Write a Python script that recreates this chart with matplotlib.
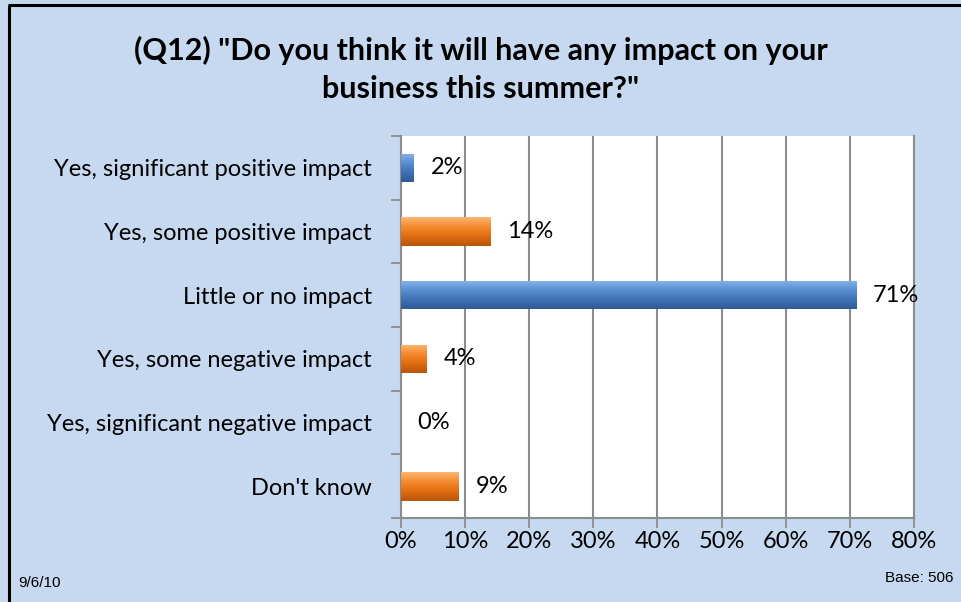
import matplotlib.pyplot as plt
import numpy as np
from matplotlib.colors import LinearSegmentedColormap

plt.rcParams['font.family'] = ['Lato', 'DejaVu Sans']

categories = ["Yes, significant positive impact", "Yes, some positive impact",
              "Little or no impact", "Yes, some negative impact",
              "Yes, significant negative impact", "Don't know"]
values = [2, 14, 71, 4, 0, 9]
series_colors = ["blue", "orange", "blue", "orange", "blue", "orange"]
xticks = [0, 10, 20, 30, 40, 50, 60, 70, 80]

bg = "#C6D9F0"
grid_c = "#8C8C8C"
fs = 17

# gradient palettes (top -> bottom) to mimic the 3D bars
grads = {
    "blue": ["#86B4EA", "#5A8FD2", "#3F72B5", "#2F5C96"],
    "orange": ["#FCB672", "#F58A2E", "#E06C10", "#B8560C"],
}

fig = plt.figure(figsize=(9.62, 6.02), dpi=100, facecolor=bg)
ax = fig.add_axes([0.4168, 0.1395, 0.5333, 0.6346])
ax.set_facecolor("white")

y = np.arange(len(categories))
bars = ax.barh(y, values, height=0.45, color="none", edgecolor="none", zorder=3)
for b, c in zip(bars, series_colors):
    cmap = LinearSegmentedColormap.from_list(c, grads[c])
    x0, y0 = b.get_x(), b.get_y()
    w, h = b.get_width(), b.get_height()
    if w <= 0:
        continue
    grad = np.linspace(0, 1, 50).reshape(-1, 1)
    im = ax.imshow(grad, cmap=cmap, aspect="auto", extent=[x0, x0 + w, y0 + h, y0],
                   zorder=3, interpolation="bicubic")
    im.set_clip_path(b)

for yi, v in zip(y, values):
    ax.annotate(f"{v}%", (v, yi), xytext=(12, 0), textcoords="offset points",
                ha="left", va="center", fontsize=fs, color="black", zorder=4)

ax.set_xlim(0, 80)
ax.set_ylim(len(categories) - 0.5, -0.5)
ax.set_xticks(xticks)
ax.set_xticklabels([f"{t}%" for t in xticks], fontsize=fs)
ax.set_yticks(y)
ax.set_yticklabels(categories, fontsize=fs)
ax.tick_params(axis="y", length=0, pad=21)
ax.set_yticks(np.arange(-0.5, len(categories)), minor=True)
ax.tick_params(axis="y", which="minor", length=7, color=grid_c, width=1.3)
ax.tick_params(axis="x", length=7, color=grid_c, width=1.3, pad=2)
ax.xaxis.grid(True, color=grid_c, linewidth=1.5, zorder=1)
ax.set_axisbelow(True)
ax.spines["top"].set_visible(False)
for s in ["left", "bottom", "right"]:
    ax.spines[s].set_color(grid_c)
    ax.spines[s].set_linewidth(1.5)

fig.text(0.5, 0.917, "(Q12) \"Do you think it will have any impact on your",
         ha="center", va="center", fontsize=22, fontweight="bold")
fig.text(0.5, 0.852, "business this summer?\"",
         ha="center", va="center", fontsize=22, fontweight="bold")
fig.text(0.019, 0.031, "9/6/10", ha="left", va="center", fontsize=11,
         family=["Liberation Sans", "DejaVu Sans"])
fig.text(0.991, 0.04, "Base: 506", ha="right", va="center", fontsize=11,
         family=["Liberation Sans", "DejaVu Sans"])

# chart border (left and top visible)
fig.add_artist(plt.Line2D([0.009, 0.009], [0, 0.992], color="black", linewidth=2.2,
                          transform=fig.transFigure, solid_capstyle="butt"))
fig.add_artist(plt.Line2D([0.008, 1], [0.992, 0.992], color="black", linewidth=2.2,
                          transform=fig.transFigure, solid_capstyle="butt"))

fig.savefig("out.png", dpi=100, facecolor=bg)
